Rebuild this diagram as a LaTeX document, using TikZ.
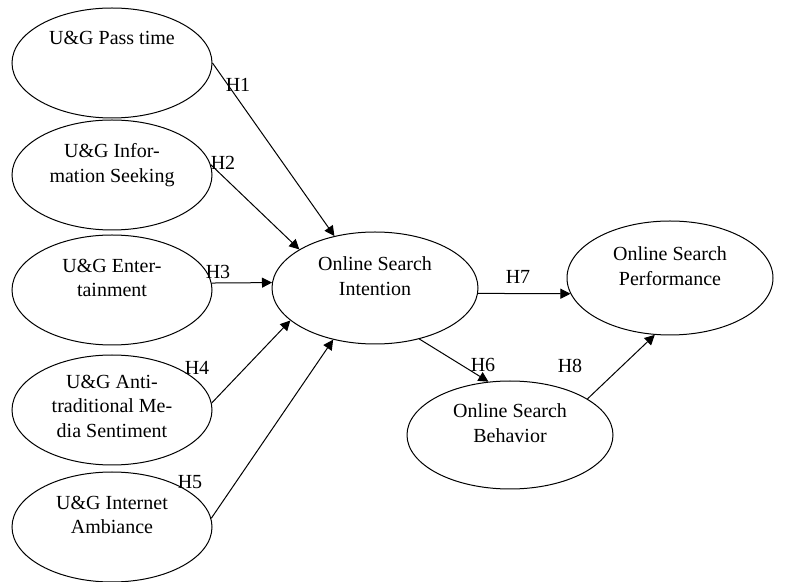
\documentclass[tikz,border=0pt]{standalone}
\usepackage{fontspec}
\setmainfont{Liberation Serif}
\newfontfamily\pathfont{Liberation Serif}
\usetikzlibrary{shapes.geometric,arrows.meta}

\begin{document}
\begin{tikzpicture}
[x=0.5pt,y=-0.5pt,line width=0.5pt,font=\pathfont\fontsize{10}{12.25}\selectfont,
var/.style={shape=ellipse,draw,inner sep=0pt,minimum width=100pt,
	minimum height=55pt,align=center,text depth=12pt},
hyp/.style={inner sep=1pt}]
\useasboundingbox (0,0) rectangle (793,582);

\node[var,text depth=25pt] (pass) at (112,63) {U\&G Pass time};
\node[var] (info) at (112,175) {U\&G Infor-\\mation Seeking};
\node[var] (ent) at (112,290) {U\&G Enter-\\tainment};
\node[var,text depth=4pt] (anti) at (112,410) {U\&G Anti-\\traditional Me-\\dia Sentiment};
\node[var] (amb) at (112,527) {U\&G Internet\\Ambiance};

\node[var,minimum width=103pt,minimum height=56pt] (intention) at (375,288) {Online Search\\Intention};
\node[var,minimum width=103pt,minimum height=57pt] (perf) at (670,278) {Online Search\\Performance};
\node[var,minimum width=103pt,minimum height=54pt] (behav) at (510,435) {Online Search\\Behavior};

\node[hyp] (h1) at (238,85) {H1};
\node[hyp] (h2) at (223,163) {H2};
\node[hyp] (h3) at (218,272) {H3};
\node[hyp] (h4) at (197,368) {H4};
\node[hyp] (h5) at (190,482) {H5};
\node[hyp] (h6) at (483,365) {H6};
\node[hyp] (h7) at (518,277) {H7};
\node[hyp] (h8) at (570,366) {H8};

\path[every edge/.style={draw,-{Triangle[length=5pt,width=5pt]}}]
\foreach \startNode/\endNode in {pass.0/intention.128,info.6/intention.153,
	ent.4/intention.177,anti.4/intention.201,amb.5/intention.231,
	intention.357/perf.189,intention.311/behav.112,behav.25/perf.255}
{
	(\startNode) edge (\endNode)
};
\end{tikzpicture}
\end{document}
